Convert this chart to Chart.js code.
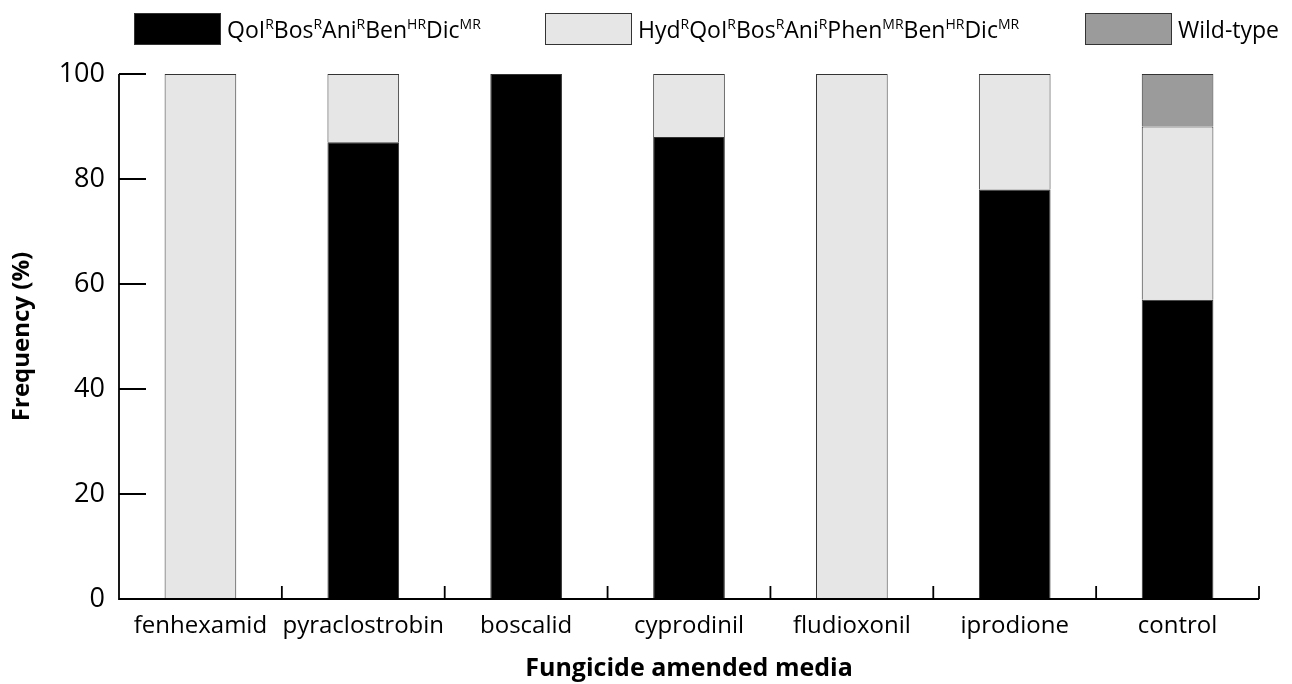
<!DOCTYPE html>
<html>
<head>
<meta charset="utf-8">
<script src="https://cdn.jsdelivr.net/npm/chart.js@4"></script>
<style>
  html, body { margin: 0; padding: 0; background: #fff; }
  #wrap { width: 1292px; height: 684px; }
</style>
</head>
<body>
<div id="wrap"><canvas id="c" width="1292" height="684"></canvas></div>
<script>
// Isolate phenotype frequencies (%) on each fungicide-amended medium
const categories = ['fenhexamid', 'pyraclostrobin', 'boscalid', 'cyprodinil', 'fludioxonil', 'iprodione', 'control'];
const qoiValues  = [0, 87, 100, 88, 0, 78, 57];
const hydValues  = [100, 13, 0, 12, 100, 22, 33];
const wildValues = [0, 0, 0, 0, 0, 0, 10];
const yTicks = [0, 20, 40, 60, 80, 100];

// Legend labels as [base, superscript] runs
const qoiLabel  = [['QoI', 'R'], ['Bos', 'R'], ['Ani', 'R'], ['Ben', 'HR'], ['Dic', 'MR']];
const hydLabel  = [['Hyd', 'R'], ['QoI', 'R'], ['Bos', 'R'], ['Ani', 'R'], ['Phen', 'MR'], ['Ben', 'HR'], ['Dic', 'MR']];
const wildLabel = [['Wild-type', '']];

const FONT = '"Open Sans", "Noto Sans", sans-serif';

const colors = { qoi: '#000000', hyd: '#e6e6e6', wild: '#9b9b9b' };

// Legend with superscripted resistance codes, drawn above the plot area
const runLegend = {
  id: 'runLegend',
  afterDraw(chart) {
    const ctx = chart.ctx;
    const items = chart.data.datasets.map(d => ({ runs: d.runs, fill: d.backgroundColor }));
    const boxStarts = [134, 545, 1085];
    const boxW = 87, boxH = 32, boxTop = 13, textGap = 6;
    const baseSize = 23, supSize = 14;
    const baseline = 38;
    ctx.save();
    items.forEach((it, i) => {
      const x = boxStarts[i];
      ctx.fillStyle = it.fill;
      ctx.fillRect(x, boxTop, boxW, boxH);
      ctx.strokeStyle = '#333';
      ctx.lineWidth = 1;
      ctx.strokeRect(x + 0.5, boxTop + 0.5, boxW - 1, boxH - 1);
      let tx = x + boxW + textGap;
      ctx.fillStyle = '#000';
      ctx.textBaseline = 'alphabetic';
      ctx.textAlign = 'left';
      it.runs.forEach(([b, s]) => {
        ctx.font = baseSize + 'px ' + FONT;
        ctx.fillText(b, tx, baseline);
        tx += ctx.measureText(b).width;
        if (s) {
          ctx.font = supSize + 'px ' + FONT;
          ctx.fillText(s, tx, baseline - 9);
          tx += ctx.measureText(s).width;
        }
      });
    });
    ctx.restore();
  }
};

// Axis lines with inward ticks on y and boundary ticks on x
const frameAxes = {
  id: 'frameAxes',
  afterDatasetsDraw(chart) {
    const ctx = chart.ctx;
    const xs = chart.scales.x, ys = chart.scales.y;
    const left = xs.left, right = xs.right;
    const top = ys.getPixelForValue(yTicks[yTicks.length - 1]);
    const bottom = ys.getPixelForValue(0);
    ctx.save();
    ctx.strokeStyle = '#000';
    ctx.lineWidth = 1.8;
    ctx.beginPath();
    ctx.moveTo(left, top);
    ctx.lineTo(left, bottom);
    ctx.lineTo(right, bottom);
    yTicks.forEach(v => {
      const py = ys.getPixelForValue(v);
      ctx.moveTo(left, py);
      ctx.lineTo(left + 27, py);
    });
    const n = categories.length;
    const w = (right - left) / n;
    for (let k = 1; k <= n; k++) {
      const px = left + k * w;
      ctx.moveTo(px, bottom);
      ctx.lineTo(px, bottom - 13);
    }
    ctx.stroke();
    ctx.restore();
  }
};

const barCommon = { borderColor: '#333', borderWidth: 1, barPercentage: 0.44, categoryPercentage: 1 };

new Chart(document.getElementById('c'), {
  type: 'bar',
  data: {
    labels: categories,
    datasets: [
      Object.assign({ label: 'QoI-R', runs: qoiLabel, data: qoiValues, backgroundColor: colors.qoi }, barCommon),
      Object.assign({ label: 'Hyd-R', runs: hydLabel, data: hydValues, backgroundColor: colors.hyd }, barCommon),
      Object.assign({ label: 'Wild-type', runs: wildLabel, data: wildValues, backgroundColor: colors.wild }, barCommon)
    ]
  },
  options: {
    responsive: false,
    animation: false,
    layout: { padding: { left: 0, right: 33, top: 74, bottom: 0 } },
    plugins: { legend: { display: false }, tooltip: { enabled: false } },
    scales: {
      x: {
        stacked: true,
        grid: { display: false, drawTicks: false },
        border: { display: false },
        ticks: { color: '#000', font: { family: FONT, size: 24 }, padding: 13, maxRotation: 0, autoSkip: false },
        title: { display: true, text: 'Fungicide amended media', color: '#000', font: { family: FONT, size: 25, weight: 'bold' }, padding: { top: 0, bottom: 0 } },
        afterFit(s) { s.height = 85; }
      },
      y: {
        stacked: true,
        min: 0, max: 100,
        grid: { display: false, drawTicks: false },
        border: { display: false },
        afterBuildTicks(s) { s.ticks = yTicks.map(v => ({ value: v })); },
        ticks: { color: '#000', font: { family: FONT, size: 27 }, padding: 14 },
        title: { display: true, text: 'Frequency (%)', color: '#000', font: { family: FONT, size: 24, weight: 'bold' }, padding: { top: 8, bottom: 0 } },
        afterFit(s) { s.width = 119; }
      }
    }
  },
  plugins: [runLegend, frameAxes]
});
</script>
</body>
</html>
